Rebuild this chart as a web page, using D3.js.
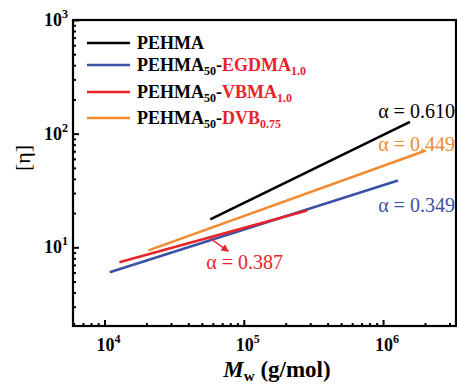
<!DOCTYPE html>
<html>
<head>
<meta charset="utf-8">
<script src="https://cdn.jsdelivr.net/npm/d3@7"></script>
<style>
  body { margin: 0; background: #fff; }
</style>
</head>
<body>
<div id="chart"></div>
<script>
// data (log-log fits, endpoints only)
const seriesNames = ['PEHMA', 'PEHMA50-EGDMA1.0', 'PEHMA50-VBMA1.0', 'PEHMA50-DVB0.75'];
const colors = ['#000000', '#3a52a4', '#e8232a', '#f28a30'];
const mwPEHMA = [5.75e4, 1.56e6];
const etaPEHMA = [17.6, 127];
const mwEGDMA = [1.09e4, 1.28e6];
const etaEGDMA = [6.04, 38.7];
const mwVBMA = [1.28e4, 2.85e5];
const etaVBMA = [7.4, 21.1];
const mwDVB = [2.07e4, 2.03e6];
const etaDVB = [9.4, 71];
const xTicks = [1e4, 1e5, 1e6];
const yTicks = [1e1, 1e2, 1e3];

const legendItems = [
  {base: 'PEHMA', sub: '', mono: '', monoSub: ''},
  {base: 'PEHMA', sub: '50', mono: 'EGDMA', monoSub: '1.0'},
  {base: 'PEHMA', sub: '50', mono: 'VBMA', monoSub: '1.0'},
  {base: 'PEHMA', sub: '50', mono: 'DVB', monoSub: '0.75'}
];

const serif = "'Liberation Serif', 'Times New Roman', 'DejaVu Serif', serif";

const margin = {top: 20, right: 1, bottom: 59, left: 73},
    width = 457 - margin.left - margin.right,
    height = 385 - margin.top - margin.bottom;

const svg = d3.select('#chart').append('svg')
    .attr('width', 457)
    .attr('height', 385)
    .attr('font-family', serif);

const g = svg.append('g')
    .attr('transform', `translate(${margin.left},${margin.top})`);

const x = d3.scaleLog().domain([5940, 3.34e6]).range([0, width]);
const y = d3.scaleLog().domain([2.03, 1000]).range([height, 0]);

// minor ticks
const xMinor = x.ticks().filter(v => xTicks.indexOf(v) < 0);
const yMinor = y.ticks().filter(v => yTicks.indexOf(v) < 0);

g.append('g')
    .attr('transform', `translate(0,${height})`)
    .call(d3.axisBottom(x).tickValues(xMinor).tickSize(-3).tickFormat(''))
    .call(a => a.select('.domain').remove())
    .selectAll('line').attr('stroke-width', 2);
g.append('g')
    .attr('transform', `translate(0,${height})`)
    .call(d3.axisBottom(x).tickValues(xTicks).tickSize(-6).tickFormat(''))
    .call(a => a.select('.domain').remove())
    .selectAll('line').attr('stroke-width', 2);
g.append('g')
    .call(d3.axisLeft(y).tickValues(yMinor).tickSize(-3).tickFormat(''))
    .call(a => a.select('.domain').remove())
    .selectAll('line').attr('stroke-width', 2);
g.append('g')
    .call(d3.axisLeft(y).tickValues(yTicks).tickSize(-6).tickFormat(''))
    .call(a => a.select('.domain').remove())
    .selectAll('line').attr('stroke-width', 2);

// frame
g.append('rect')
    .attr('width', width)
    .attr('height', height)
    .attr('fill', 'none')
    .attr('stroke', '#000')
    .attr('stroke-width', 2.2);

// tick labels with superscripts
const xl = g.selectAll('.xlab').data(xTicks).join('text')
    .attr('class', 'xlab')
    .attr('x', d => x(d) + 4)
    .attr('y', height + 25)
    .attr('text-anchor', 'middle')
    .attr('font-family', serif)
    .style('font-size', '18px')
    .style('font-weight', 'bold');
xl.append('tspan').text('10');
xl.append('tspan').attr('dy', -8).style('font-size', '12px').text(d => Math.round(Math.log10(d)));

const yl = g.selectAll('.ylab').data(yTicks).join('text')
    .attr('class', 'ylab')
    .attr('x', -5)
    .attr('y', d => y(d) + 6)
    .attr('text-anchor', 'end')
    .attr('font-family', serif)
    .style('font-size', '18px')
    .style('font-weight', 'bold');
yl.append('tspan').text('10');
yl.append('tspan').attr('dy', -8).style('font-size', '12px').text(d => Math.round(Math.log10(d)));

// axis titles
const xt = svg.append('text')
    .attr('x', 277)
    .attr('y', 377)
    .attr('text-anchor', 'middle')
    .attr('font-family', serif)
    .style('font-size', '23px')
    .style('font-weight', 'bold');
xt.append('tspan').style('font-style', 'italic').text('M');
xt.append('tspan').attr('dy', 4).style('font-size', '15px').text('w');
xt.append('tspan').attr('dy', -4).text(' (g/mol)');

svg.append('text')
    .attr('transform', 'translate(30,158) rotate(-90)')
    .attr('text-anchor', 'middle')
    .attr('font-family', serif)
    .style('font-size', '22px')
    .text('[η]');

// lines
const series = [
  {mw: mwPEHMA, eta: etaPEHMA},
  {mw: mwEGDMA, eta: etaEGDMA},
  {mw: mwDVB, eta: etaDVB},
  {mw: mwVBMA, eta: etaVBMA}
];
const seriesColor = [colors[0], colors[1], colors[3], colors[2]];
const line = d3.line().x(d => x(d[0])).y(d => y(d[1]));
series.forEach((s, i) => {
  g.append('path')
      .datum(s.mw.map((m, j) => [m, s.eta[j]]))
      .attr('d', line)
      .attr('fill', 'none')
      .attr('stroke', seriesColor[i])
      .attr('stroke-width', 2.6);
});

// legend
const legend = g.append('g').attr('transform', 'translate(14,23)');
const rowY = [0, 22, 49, 75];
legendItems.forEach((d, i) => {
  const row = legend.append('g').attr('transform', `translate(0,${rowY[i]})`);
  row.append('line')
      .attr('x1', 0).attr('x2', 43)
      .attr('stroke', colors[i])
      .attr('stroke-width', 2.6);
  const t = row.append('text')
      .attr('x', 50)
      .attr('y', 6)
      .attr('font-family', serif)
      .style('font-size', '18px')
      .style('font-weight', 'bold');
  t.append('tspan').text(d.base);
  if (d.sub) {
    t.append('tspan').attr('dy', 4).style('font-size', '12px').text(d.sub);
    t.append('tspan').attr('dy', -4).text('-');
    t.append('tspan').attr('fill', '#e8232a').text(d.mono);
    t.append('tspan').attr('dy', 4).attr('fill', '#e8232a').style('font-size', '12px').text(d.monoSub);
  }
});

// alpha annotations (right-aligned ones end near the frame edge)
const alphas = [
  {txt: 'α = 0.610', color: colors[0], x: 3.28e6, y: 156, anchor: 'end'},
  {txt: 'α = 0.449', color: colors[3], x: 3.28e6, y: 80, anchor: 'end'},
  {txt: 'α = 0.349', color: colors[1], x: 3.28e6, y: 22.9, anchor: 'end'},
  {txt: 'α = 0.387', color: colors[2], x: 5.38e4, y: 7.24, anchor: 'start'}
];
g.selectAll('.alpha').data(alphas).join('text')
    .attr('class', 'alpha')
    .attr('x', d => x(d.x))
    .attr('y', d => y(d.y) + 6)
    .attr('text-anchor', d => d.anchor)
    .attr('font-family', serif)
    .attr('fill', d => d.color)
    .style('font-size', '20px')
    .text(d => d.txt);

// arrow to the VBMA line
svg.append('defs').append('marker')
    .attr('id', 'arr')
    .attr('viewBox', '0 0 10 10')
    .attr('refX', 9).attr('refY', 5)
    .attr('markerWidth', 5).attr('markerHeight', 5)
    .attr('orient', 'auto')
  .append('path')
    .attr('d', 'M0,0L10,5L0,10z')
    .attr('fill', colors[2]);
g.append('line')
    .attr('x1', x(5.75e4)).attr('y1', y(12.0))
    .attr('x2', x(7.74e4)).attr('y2', y(9.23))
    .attr('stroke', colors[2])
    .attr('stroke-width', 1.5)
    .attr('marker-end', 'url(#arr)');
</script>
</body>
</html>
